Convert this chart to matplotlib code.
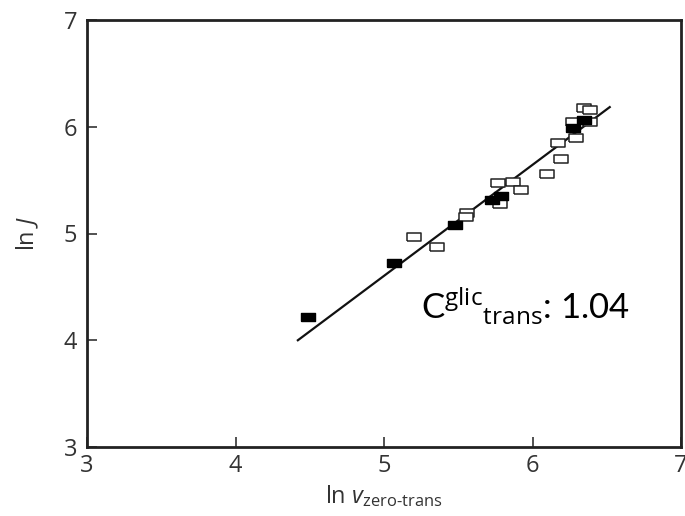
import matplotlib
matplotlib.use("Agg")
import matplotlib.pyplot as plt
import numpy as np

plt.rcParams['font.family'] = ['Open Sans', 'DejaVu Sans']
plt.rcParams['mathtext.fontset'] = 'custom'
plt.rcParams['mathtext.rm'] = 'Open Sans'
plt.rcParams['mathtext.it'] = 'Open Sans:italic'

# filled squares
filled_x = [4.49, 5.07, 5.48, 5.73, 5.79, 6.27, 6.35]
filled_y = [4.22, 4.72, 5.08, 5.31, 5.35, 5.99, 6.06]

# open squares
open_x = [5.20, 5.36, 5.56, 5.55, 5.77, 5.87, 5.92, 5.78, 6.10, 6.17, 6.19,
          6.29, 6.27, 6.39, 6.35, 6.39]
open_y = [4.97, 4.87, 5.19, 5.15, 5.47, 5.48, 5.41, 5.28, 5.56, 5.85, 5.70,
          5.89, 6.04, 6.04, 6.18, 6.16]

# fitted line
fit_x = [4.42, 6.52]
slope = 1.04
intercept = 4.0 - slope * 4.42

rect = [(-1, -0.6), (1, -0.6), (1, 0.6), (-1, 0.6), (-1, -0.6)]

fig = plt.figure(figsize=(6.85, 5.16), dpi=100)
ax = fig.add_axes([87 / 685, 1 - 447 / 516, (681 - 87) / 685, (447 - 20) / 516])

fx = np.array(fit_x)
ax.plot(fx, slope * fx + intercept, color='#111111', lw=1.6, zorder=2)
ax.plot(open_x, open_y, linestyle='none', marker=rect, markersize=9.5,
        markerfacecolor='white', markeredgecolor='#222222', markeredgewidth=1.1, zorder=3)
ax.plot(filled_x, filled_y, linestyle='none', marker=rect, markersize=9.5,
        markerfacecolor='black', markeredgecolor='black', zorder=4)

ax.set_xlim(3, 7)
ax.set_ylim(3, 7)
ax.set_xticks([3, 4, 5, 6, 7])
ax.set_yticks([3, 4, 5, 6, 7])
ax.tick_params(direction='in', length=7, width=1.2, labelsize=17, colors='#333333',
               top=False, right=False)
ax.tick_params(axis='x', pad=5)
ax.tick_params(axis='y', pad=7)
for s in ax.spines.values():
    s.set_linewidth(2)
    s.set_color('#222222')

ax.set_xlabel(r'ln $\mathit{v}_{\mathrm{zero\text{-}trans}}$', fontsize=17, color='#333333',
              labelpad=4)
ax.set_ylabel(r'ln $\mathit{J}$', fontsize=17, color='#333333', labelpad=16)

ax.text(5.25, 4.20, r'C$^{\mathrm{glic}}{}_{\mathrm{trans}}$: 1.04', fontsize=25,
        color='black', family='Lato')

fig.savefig('out.png', dpi=100)
